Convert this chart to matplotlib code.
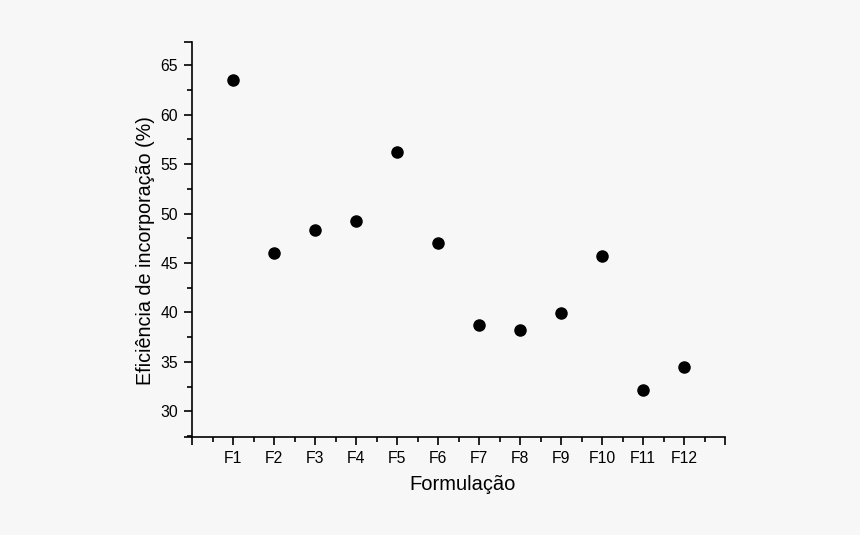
import matplotlib.pyplot as plt
from matplotlib.ticker import MultipleLocator, FixedLocator

formulations = ["F1", "F2", "F3", "F4", "F5", "F6", "F7", "F8", "F9", "F10", "F11", "F12"]
efficiency = [63.5, 46.0, 48.3, 49.2, 56.2, 47.0, 38.7, 38.2, 39.9, 45.7, 32.2, 34.5]

plt.rcParams["font.family"] = ["Liberation Sans", "DejaVu Sans"]

bg = "#f7f7f7"
fig = plt.figure(figsize=(8.6, 5.35), dpi=100, facecolor=bg)
ax = fig.add_axes([0.2233, 0.1832, 0.6198, 0.7383], facecolor=bg)

positions = list(range(1, len(formulations) + 1))
ax.scatter(positions, efficiency, s=64, color="black", zorder=3)

ax.set_xlim(0, 13)
ax.set_ylim(27.4, 67.35)
ax.xaxis.set_major_locator(FixedLocator([0] + positions + [13]))
ax.set_xticklabels([""] + formulations + [""])
ax.xaxis.set_minor_locator(MultipleLocator(0.5))
ax.yaxis.set_major_locator(FixedLocator([27.4, 30, 35, 40, 45, 50, 55, 60, 65, 67.35]))
ax.set_yticklabels(["", "30", "35", "40", "45", "50", "55", "60", "65", ""])
ax.yaxis.set_minor_locator(MultipleLocator(2.5))

for side in ("top", "right"):
    ax.spines[side].set_visible(False)
for side in ("left", "bottom"):
    ax.spines[side].set_linewidth(1.2)

ax.tick_params(which="major", direction="out", length=6, width=1.2, labelsize=11.3, pad=4)
ax.tick_params(which="minor", direction="out", length=3.5, width=1.2)

ax.set_xlabel("Formulação", fontsize=14.5)
ax.set_ylabel("Eficiência de incorporação (%)", fontsize=14.2)
ax.xaxis.set_label_coords(0.508, -0.097)
ax.yaxis.set_label_coords(-0.069, 0.473)

fig.savefig("out.png", dpi=100, facecolor=bg)
